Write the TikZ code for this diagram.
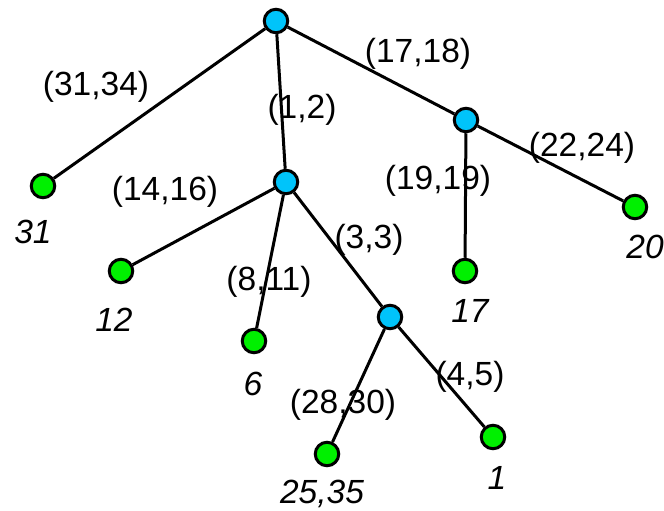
\documentclass[tikz,border=0pt]{standalone}
\usepackage{fontspec}
\setmainfont{Liberation Sans}
\definecolor{inner}{RGB}{0,196,250}
\definecolor{leafc}{RGB}{0,240,0}
\begin{document}
\begin{tikzpicture}[x=1pt,y=-1pt,
  vin/.style={circle,draw=black,line width=3pt,fill=inner,minimum size=23.5pt,inner sep=0pt},
  vleaf/.style={circle,draw=black,line width=3pt,fill=leafc,minimum size=23.5pt,inner sep=0pt},
  edge/.style={line width=3pt},
  elab/.style={font=\fontsize{33.5}{36}\selectfont,inner sep=0pt},
  llab/.style={font=\fontsize{33.5}{36}\selectfont\itshape,inner sep=0pt}]
\useasboundingbox (0,0) rectangle (664,511);
% nodes
\node[vin] (r) at (276,21) {};
\node[vleaf] (l31) at (43,186) {};
\node[vin] (a) at (286,182) {};
\node[vin] (b) at (466,120) {};
\node[vleaf] (l12) at (121,271) {};
\node[vleaf] (l6) at (254,341) {};
\node[vin] (c) at (390,317) {};
\node[vleaf] (l17) at (465,271) {};
\node[vleaf] (l20) at (635,207) {};
\node[vleaf] (l25) at (327,454) {};
\node[vleaf] (l1) at (493,437) {};
% edges
\draw[edge] (r) -- (l31);
\draw[edge] (r) -- (a);
\draw[edge] (r) -- (b);
\draw[edge] (a) -- (l12);
\draw[edge] (a) -- (l6);
\draw[edge] (a) -- (c);
\draw[edge] (b) -- (l17);
\draw[edge] (b) -- (l20);
\draw[edge] (c) -- (l25);
\draw[edge] (c) -- (l1);
% edge labels
\node[elab] (e1) at (96,87) {(31,34)};
\node[elab] (e2) at (302,110) {(1,2)};
\node[elab] (e3) at (418,54) {(17,18)};
\node[elab] (e4) at (165,192) {(14,16)};
\node[elab] (e5) at (438,181) {(19,19)};
\node[elab] (e6) at (582,148) {(22,24)};
\node[elab] (e7) at (269,282) {(8,11)};
\node[elab] (e8) at (369,240) {(3,3)};
\node[elab] (e9) at (343,405) {(28,30)};
\node[elab] (e10) at (470,377) {(4,5)};
% leaf labels
\node[llab] (t31) at (33,232) {31};
\node[llab] (t12) at (114,320) {12};
\node[llab] (t6) at (253,384) {6};
\node[llab] (t17) at (470,311) {17};
\node[llab] (t20) at (645,247) {20};
\node[llab] (t25) at (322,494) {25,35};
\node[llab] (t1) at (497,478) {1};
\end{tikzpicture}
\end{document}
